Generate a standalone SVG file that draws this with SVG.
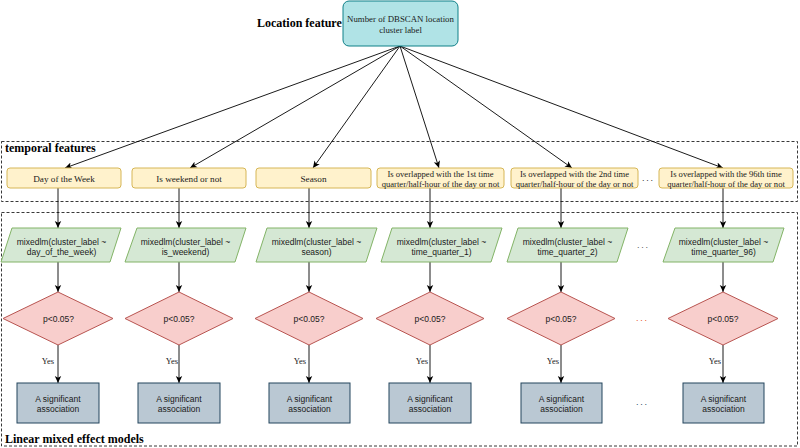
<svg xmlns="http://www.w3.org/2000/svg" width="800" height="448" viewBox="0 0 800 448">
<defs>
<marker id="arr" markerUnits="userSpaceOnUse" markerWidth="8" markerHeight="8" viewBox="0 0 8 8" refX="7" refY="4" orient="auto">
<path d="M0,0.8 L7,4 L0,7.2 L1.8,4 z" fill="#000"/>
</marker>
<style>
.lbl{font-family:"Liberation Serif","Times New Roman",serif;font-weight:bold;font-size:12px;fill:#000}
.serif{font-family:"Liberation Serif","Times New Roman",serif;font-size:9.2px;fill:#1a1a1a;text-anchor:middle}
.serif2{font-family:"Liberation Serif","Times New Roman",serif;font-size:8.6px;fill:#1a1a1a;text-anchor:middle}
.sans{font-family:"Liberation Sans",Arial,sans-serif;font-size:8.5px;fill:#1a1a1a;text-anchor:middle}
.yes{font-family:"Liberation Serif","Times New Roman",serif;font-size:8.5px;fill:#1a1a1a;text-anchor:end}
.box{fill:none;stroke:#222;stroke-width:0.9;stroke-dasharray:3 2}
.loc{fill:#b0e3e6;stroke:#0e8088;stroke-width:1}
.tmp{fill:#fff2cc;stroke:#d6b656;stroke-width:1}
.par{fill:#d5e8d4;stroke:#82b366;stroke-width:1}
.dia{fill:#f8cecc;stroke:#b85450;stroke-width:1}
.res{fill:#bac8d3;stroke:#23445d;stroke-width:1}
.con{fill:none;stroke:#000;stroke-width:0.9;marker-end:url(#arr)}
.dots{font-family:"Liberation Sans",Arial,sans-serif;font-size:9px;letter-spacing:1.8px}
</style>
</defs>
<rect width="800" height="448" fill="#fff"/>

<g id="frames">
<rect class="box" x="1.5" y="141.5" width="796" height="60"/>
<rect class="box" x="1.5" y="212.5" width="796" height="233.5"/>
<text class="lbl" x="5" y="152">temporal features</text>
<text class="lbl" x="5" y="443">Linear mixed effect models</text>
<text class="lbl" x="257" y="27">Location feature</text>
</g>

<g id="connectors">
<path class="con" d="M400,46 L65,168"/>
<path class="con" d="M400,46 L190,168"/>
<path class="con" d="M400,46 L313,168"/>
<path class="con" d="M400,46 L439,168"/>
<path class="con" d="M400,46 L572,168"/>
<path class="con" d="M400,46 L723,168"/>

<path class="con" d="M58,188 V228"/>
<path class="con" d="M179,188 V228"/>
<path class="con" d="M309,188 V228"/>
<path class="con" d="M430,188 V228"/>
<path class="con" d="M561,188 V228"/>
<path class="con" d="M723,188 V228"/>

<path class="con" d="M58,262 V292"/>
<path class="con" d="M179,262 V292"/>
<path class="con" d="M309,262 V292"/>
<path class="con" d="M430,262 V292"/>
<path class="con" d="M561,262 V292"/>
<path class="con" d="M723,262 V292"/>

<path class="con" d="M58,345 V383"/>
<path class="con" d="M179,345 V383"/>
<path class="con" d="M309,345 V383"/>
<path class="con" d="M430,345 V383"/>
<path class="con" d="M561,345 V383"/>
<path class="con" d="M723,345 V383"/>

<text class="yes" x="54" y="364">Yes</text>
<text class="yes" x="178" y="364">Yes</text>
<text class="yes" x="306" y="364">Yes</text>
<text class="yes" x="428" y="364">Yes</text>
<text class="yes" x="559" y="364">Yes</text>
<text class="yes" x="721" y="364">Yes</text>
</g>

<g id="location">
<rect class="loc" x="343" y="1" width="115" height="45" rx="6"/>
<text class="serif" x="400.5" y="21.5" style="font-size:8.8px">Number of DBSCAN location</text>
<text class="serif" x="400.5" y="32.5" style="font-size:8.8px">cluster label</text>
</g>

<g id="t1"><rect class="tmp" x="7" y="168" width="114" height="20" rx="3"/><text class="serif" x="64" y="181.5">Day of the Week</text></g>
<g id="t2"><rect class="tmp" x="132" y="168" width="114" height="20" rx="3"/><text class="serif" x="189" y="181.5">Is weekend or not</text></g>
<g id="t3"><rect class="tmp" x="256" y="168" width="115" height="20" rx="3"/><text class="serif" x="313.5" y="181.5">Season</text></g>
<g id="t4"><rect class="tmp" x="377" y="168" width="127" height="20" rx="3"/><text class="serif2" x="440.5" y="176.5">Is overlapped with the 1st time</text><text class="serif2" x="440.5" y="186.5">quarter/half-hour of the day or not</text></g>
<g id="t5"><rect class="tmp" x="511" y="168" width="127" height="20" rx="3"/><text class="serif2" x="574.5" y="176.5">Is overlapped with the 2nd time</text><text class="serif2" x="574.5" y="186.5">quarter/half-hour of the day or not</text></g>
<g id="t6"><rect class="tmp" x="659" y="168" width="134" height="20" rx="3"/><text class="serif2" x="726" y="176.5">Is overlapped with the 96th time</text><text class="serif2" x="726" y="186.5">quarter/half-hour of the day or not</text></g>
<text class="dots" x="642" y="181" fill="#333">...</text>

<g id="m1"><path class="par" d="M12,228 H121 L110,262 H1 Z"/><text class="sans" x="61.5" y="245">mixedlm(cluster_label ~</text><text class="sans" x="61.5" y="255">day_of_the_week)</text></g>
<g id="m2"><path class="par" d="M137,228 H246 L235,262 H125 Z"/><text class="sans" x="185.5" y="245">mixedlm(cluster_label ~</text><text class="sans" x="185.5" y="255">is_weekend)</text></g>
<g id="m3"><path class="par" d="M267,228 H377 L366,262 H256 Z"/><text class="sans" x="316.5" y="245">mixedlm(cluster_label ~</text><text class="sans" x="316.5" y="255">season)</text></g>
<g id="m4"><path class="par" d="M392,228 H502 L491,262 H381 Z"/><text class="sans" x="441.5" y="245">mixedlm(cluster_label ~</text><text class="sans" x="441.5" y="255">time_quarter_1)</text></g>
<g id="m5"><path class="par" d="M518,228 H628 L617,262 H507 Z"/><text class="sans" x="567.5" y="245">mixedlm(cluster_label ~</text><text class="sans" x="567.5" y="255">time_quarter_2)</text></g>
<g id="m6"><path class="par" d="M675,228 H784 L773,262 H663 Z"/><text class="sans" x="723.5" y="245">mixedlm(cluster_label ~</text><text class="sans" x="723.5" y="255">time_quarter_96)</text></g>
<text class="dots" x="637" y="248" fill="#555">...</text>

<g id="d1"><path class="dia" d="M58,292 L113,318.5 L58,345 L3,318.5 Z"/><text class="sans" x="58.5" y="321.5">p&lt;0.05?</text></g>
<g id="d2"><path class="dia" d="M179,292 L233,318.5 L179,345 L125,318.5 Z"/><text class="sans" x="179" y="321.5">p&lt;0.05?</text></g>
<g id="d3"><path class="dia" d="M309,292 L363,318.5 L309,345 L255,318.5 Z"/><text class="sans" x="309" y="321.5">p&lt;0.05?</text></g>
<g id="d4"><path class="dia" d="M430,292 L484,318.5 L430,345 L376,318.5 Z"/><text class="sans" x="430" y="321.5">p&lt;0.05?</text></g>
<g id="d5"><path class="dia" d="M561,292 L615,318.5 L561,345 L507,318.5 Z"/><text class="sans" x="561" y="321.5">p&lt;0.05?</text></g>
<g id="d6"><path class="dia" d="M723,292 L778,318.5 L723,345 L668,318.5 Z"/><text class="sans" x="723" y="321.5">p&lt;0.05?</text></g>
<text class="dots" x="636" y="321" fill="#e8501a">...</text>

<g id="r1"><rect class="res" x="17" y="383" width="82" height="40"/><text class="sans" x="58" y="402">A significant</text><text class="sans" x="58" y="412">association</text></g>
<g id="r2"><rect class="res" x="138" y="383" width="82" height="40"/><text class="sans" x="179" y="402">A significant</text><text class="sans" x="179" y="412">association</text></g>
<g id="r3"><rect class="res" x="269" y="383" width="81" height="40"/><text class="sans" x="309.5" y="402">A significant</text><text class="sans" x="309.5" y="412">association</text></g>
<g id="r4"><rect class="res" x="389" y="383" width="82" height="40"/><text class="sans" x="430" y="402">A significant</text><text class="sans" x="430" y="412">association</text></g>
<g id="r5"><rect class="res" x="521" y="383" width="81" height="40"/><text class="sans" x="561.5" y="402">A significant</text><text class="sans" x="561.5" y="412">association</text></g>
<g id="r6"><rect class="res" x="683" y="383" width="81" height="40"/><text class="sans" x="723.5" y="402">A significant</text><text class="sans" x="723.5" y="412">association</text></g>
<text class="dots" x="636" y="405" fill="#2b4a66">...</text>
</svg>
